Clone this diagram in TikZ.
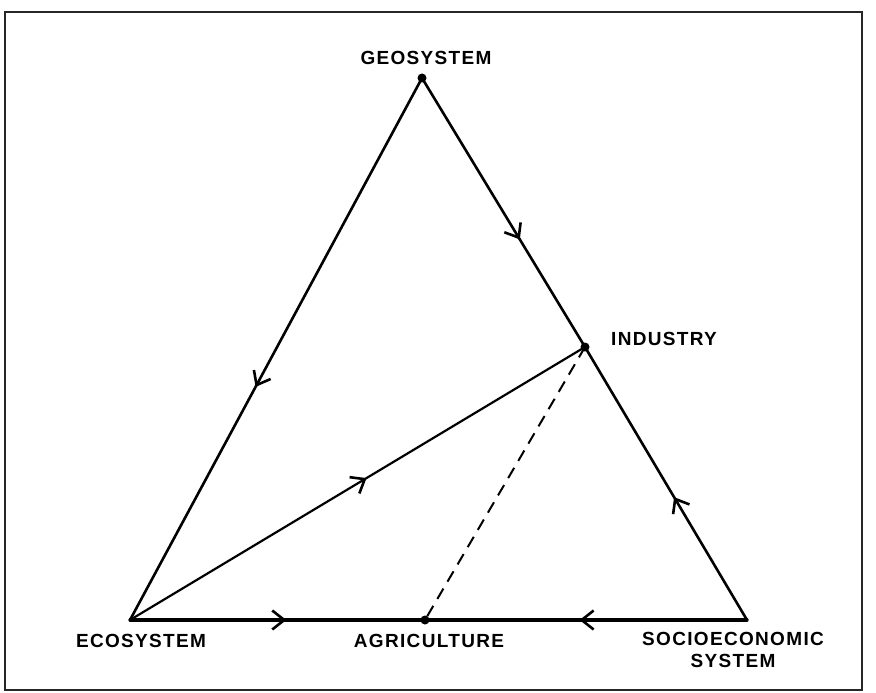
\documentclass[tikz,border=0pt]{standalone}
\usepackage{fontspec}
\newfontfamily\labfont[LetterSpace=7]{Liberation Sans Bold}
\usetikzlibrary{arrows.meta,decorations.markings}

\tikzset{
  frame/.style={line width=1.4pt, black!85},
  edge/.style={line width=2.6pt, line cap=round, line join=round},
  thinedge/.style={line width=2.2pt, line cap=round},
  baseedge/.style={line width=3.2pt, line cap=round},
  dashedge/.style={line width=2pt, dash pattern=on 12pt off 8pt},
  vtx/.style={circle, fill=black, inner sep=0pt, minimum size=9pt},
  lab/.style={font=\labfont\fontsize{19}{22}\selectfont, inner sep=0pt, align=center},
  midarrow/.style={postaction={decorate}, decoration={markings,
      mark=at position #1 with {\arrow{Straight Barb[length=12pt,width=19pt,line width=2.6pt]}}}},
}

\begin{document}
\begin{tikzpicture}[x=1pt, y=-1pt]
  \useasboundingbox (0,0) rectangle (876,693);
  \draw[frame] (5,12) rectangle (862,690);

  % vertices of the triangle and the two marked points
  \node[vtx] (geo) at (422,78) {};
  \node[vtx] (ind) at (585,347) {};
  \node[vtx] (agr) at (425,620) {};
  \coordinate (eco) at (130,620);
  \coordinate (soc) at (747,620);

  % flows
  \draw[edge, midarrow=0.57] (geo.center) -- (eco);
  \draw[edge, midarrow=0.6] (geo.center) -- (ind.center);
  \draw[edge, midarrow=0.45] (soc) -- (ind.center);
  \draw[thinedge, midarrow=0.52] (eco) -- (ind.center);
  \draw[baseedge, midarrow=0.53] (eco) -- (agr.center);
  \draw[baseedge, midarrow=0.52] (soc) -- (agr.center);
  \draw[dashedge] (ind.center) -- (agr.center);

  % labels
  \node[lab] (geol) at (426,58) {GEOSYSTEM};
  \node[lab, anchor=west] (indl) at (611,339) {INDUSTRY};
  \node[lab] (ecol) at (141,641) {ECOSYSTEM};
  \node[lab] (agrl) at (429,641) {AGRICULTURE};
  \node[lab, anchor=north] (socl) at (733,632) {SOCIOECONOMIC\\SYSTEM};
\end{tikzpicture}
\end{document}
